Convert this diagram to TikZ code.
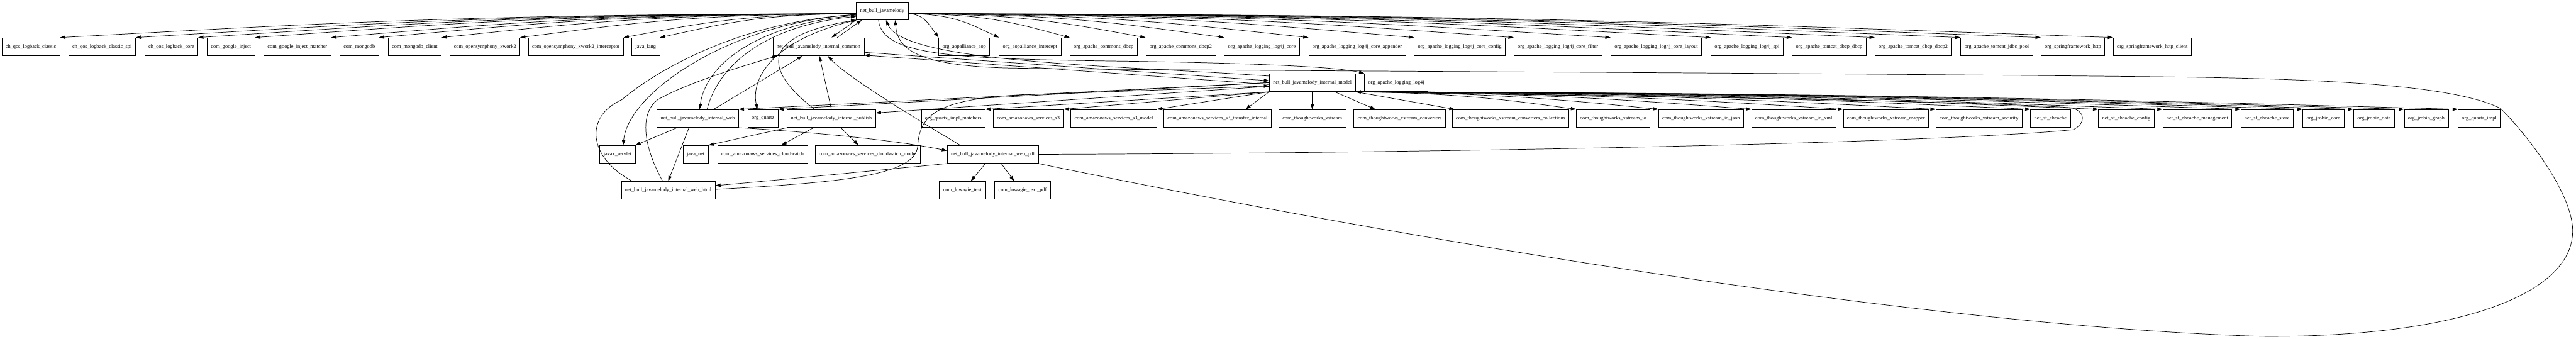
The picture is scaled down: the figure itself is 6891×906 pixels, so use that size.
\documentclass[tikz,border=0pt]{standalone}
\usepackage{fontspec}
\setmainfont{Liberation Serif}
\usetikzlibrary{arrows.meta}

\begin{document}
\begin{tikzpicture}[x=0.02cm,y=0.02cm,>={Triangle[length=0.28cm,width=0.18cm]},
    pkg/.style={draw, line width=0.7pt, minimum height=0.96cm, inner xsep=0.2cm, inner ysep=0pt,
        font=\fontsize{7.97}{9}\selectfont},
    dep/.style={->, line width=0.7pt}]

    % --- White canvas ---
    \fill[white] (0,0) rectangle (6891,-906);
    \useasboundingbox (0,0) rectangle (6891,-906);

    % --- Root package ---
    \node[pkg] (jm) at (2360,-29) {net\_bull\_javamelody};

    % --- Rank 1 ---
    \node[pkg] (qosclassic) at (82.5,-125) {ch\_qos\_logback\_classic};
    \node[pkg] (qosspi) at (273,-125) {ch\_qos\_logback\_classic\_spi};
    \node[pkg] (qoscore) at (458.5,-125) {ch\_qos\_logback\_core};
    \node[pkg] (inject) at (618,-125) {com\_google\_inject};
    \node[pkg] (injectmatcher) at (795.5,-125) {com\_google\_inject\_matcher};
    \node[pkg] (mongo) at (961,-125) {com\_mongodb};
    \node[pkg] (mongoclient) at (1109.5,-125) {com\_mongodb\_client};
    \node[pkg] (xwork) at (1297.5,-125) {com\_opensymphony\_xwork2};
    \node[pkg] (xworkint) at (1540.5,-125) {com\_opensymphony\_xwork2\_interceptor};
    \node[pkg] (javalang) at (1727.5,-125) {java\_lang};
    \node[pkg] (common) at (2189.5,-125) {net\_bull\_javamelody\_internal\_common};
    \node[pkg] (aop) at (2579.5,-125) {org\_aopalliance\_aop};
    \node[pkg] (aopint) at (2755.5,-125) {org\_aopalliance\_intercept};
    \node[pkg] (dbcp) at (2952,-125) {org\_apache\_commons\_dbcp};
    \node[pkg] (dbcptwo) at (3158.5,-125) {org\_apache\_commons\_dbcp2};
    \node[pkg] (lcore) at (3375.5,-125) {org\_apache\_logging\_log4j\_core};
    \node[pkg] (lappender) at (3630.5,-125) {org\_apache\_logging\_log4j\_core\_appender};
    \node[pkg] (lconfig) at (3905,-125) {org\_apache\_logging\_log4j\_core\_config};
    \node[pkg] (lfilter) at (4167.5,-125) {org\_apache\_logging\_log4j\_core\_filter};
    \node[pkg] (llayout) at (4430.5,-125) {org\_apache\_logging\_log4j\_core\_layout};
    \node[pkg] (lspi) at (4673.5,-125) {org\_apache\_logging\_log4j\_spi};
    \node[pkg] (tdbcp) at (4893,-125) {org\_apache\_tomcat\_dbcp\_dbcp};
    \node[pkg] (tdbcptwo) at (5118,-125) {org\_apache\_tomcat\_dbcp\_dbcp2};
    \node[pkg] (jdbcpool) at (5341.5,-125) {org\_apache\_tomcat\_jdbc\_pool};
    \node[pkg] (shttp) at (5545,-125) {org\_springframework\_http};
    \node[pkg] (shttpclient) at (5757.5,-125) {org\_springframework\_http\_client};

    % --- Rank 2 ---
    \node[pkg] (model) at (3510.5,-221) {net\_bull\_javamelody\_internal\_model};
    \node[pkg] (log4j) at (3735,-221) {org\_apache\_logging\_log4j};

    % --- Rank 3 ---
    \node[pkg] (web) at (1866.5,-317) {net\_bull\_javamelody\_internal\_web};
    \node[pkg] (quartz) at (2041,-317) {org\_quartz};
    \node[pkg] (publish) at (2224,-317) {net\_bull\_javamelody\_internal\_publish};
    \node[pkg] (matchers) at (2550,-317) {org\_quartz\_impl\_matchers};
    \node[pkg] (sthree) at (2751,-317) {com\_amazonaws\_services\_s3};
    \node[pkg] (sthreemodel) at (2979.5,-317) {com\_amazonaws\_services\_s3\_model};
    \node[pkg] (sthreetransfer) at (3257,-317) {com\_amazonaws\_services\_s3\_transfer\_internal};
    \node[pkg] (xs) at (3510.5,-317) {com\_thoughtworks\_xstream};
    \node[pkg] (xsconv) at (3744,-317) {com\_thoughtworks\_xstream\_converters};
    \node[pkg] (xscoll) at (4041,-317) {com\_thoughtworks\_xstream\_converters\_collections};
    \node[pkg] (xsio) at (4315.5,-317) {com\_thoughtworks\_xstream\_io};
    \node[pkg] (xsjson) at (4550.5,-317) {com\_thoughtworks\_xstream\_io\_json};
    \node[pkg] (xsxml) at (4798.5,-317) {com\_thoughtworks\_xstream\_io\_xml};
    \node[pkg] (xsmapper) at (5045,-317) {com\_thoughtworks\_xstream\_mapper};
    \node[pkg] (xssec) at (5294,-317) {com\_thoughtworks\_xstream\_security};
    \node[pkg] (ehcache) at (5485,-317) {net\_sf\_ehcache};
    \node[pkg] (ehconfig) at (5688,-317) {net\_sf\_ehcache\_config};
    \node[pkg] (ehmgmt) at (5878,-317) {net\_sf\_ehcache\_management};
    \node[pkg] (ehstore) at (6064.5,-317) {net\_sf\_ehcache\_store};
    \node[pkg] (jrcore) at (6215,-317) {org\_jrobin\_core};
    \node[pkg] (jrdata) at (6350.5,-317) {org\_jrobin\_data};
    \node[pkg] (jrgraph) at (6490.5,-317) {org\_jrobin\_graph};
    \node[pkg] (quartzimpl) at (6632,-317) {org\_quartz\_impl};

    % --- Rank 4 ---
    \node[pkg] (servlet) at (1652,-413) {javax\_servlet};
    \node[pkg] (javanet) at (1861,-413) {java\_net};
    \node[pkg] (cw) at (2040,-413) {com\_amazonaws\_services\_cloudwatch};
    \node[pkg] (cwmodel) at (2321.5,-413) {com\_amazonaws\_services\_cloudwatch\_model};
    \node[pkg] (pdf) at (2656,-413) {net\_bull\_javamelody\_internal\_web\_pdf};

    % --- Rank 5 ---
    \node[pkg] (html) at (1787.5,-509) {net\_bull\_javamelody\_internal\_web\_html};
    \node[pkg] (lowagie) at (2574.5,-509) {com\_lowagie\_text};
    \node[pkg] (lowagiepdf) at (2735.5,-509) {com\_lowagie\_text\_pdf};

    % --- Root fan, left and right ---
    \foreach \t/\a/\b in {qosclassic/1065/639, qosspi/964/578, qoscore/880/528, inject/804/482,
        injectmatcher/702/422, mongo/638/383, mongoclient/554/333, xwork/450/270,
        xworkint/312/187, javalang/262/158}
        \draw[dep] ([yshift=-0.16cm]jm.west) .. controls +(-\a,0) and +(\b,34) .. (\t.north east);
    \foreach \t/\a/\b in {aop/41/25, aopint/122/73, dbcp/217/130, dbcptwo/318/191, lcore/423/254,
        lappender/536/322, lconfig/678/406, lfilter/810/486, llayout/940/564, lspi/1074/644,
        tdbcp/1182/710, tdbcptwo/1294/776, jdbcpool/1408/845, shttp/1516/910, shttpclient/1612/968}
        \draw[dep] ([yshift=-0.16cm]jm.east) .. controls +(\a,0) and +(-\b,34) .. (\t.north west);

    % --- Root and common ---
    \draw[dep] (jm.south west) -- ([xshift=0.7cm]common.north);
    \draw[dep] ([xshift=1cm]common.north) -- ([xshift=0.3cm]jm.south west);
    \draw[dep] ([xshift=-0.2cm]jm.south) .. controls (2360,-150) and (2550,-158) .. (3033,-164)
        .. controls (3400,-170) and (3580,-180) .. (log4j.north west);
    \draw[dep] ([yshift=0.35cm]model.west) .. controls (3000,-175) and (2420,-170) .. ([xshift=0.2cm]jm.south);

    % --- Root and web side ---
    \draw[dep] ([yshift=-0.2cm]jm.west) .. controls (1950,-60) and (1680,-250) .. ([xshift=0.3cm]servlet.north);
    \draw[dep] ([xshift=0.6cm]html.north west) .. controls (1570,-420) and (1565,-310) .. (1663,-267)
        .. controls (1760,-185) and (1980,-60) .. ([yshift=-0.2cm]jm.west);
    \draw[dep] ([yshift=-0.25cm]jm.west) .. controls (2050,-60) and (1890,-160) .. ([xshift=0.1cm]web.north);
    \draw[dep] ([xshift=0.5cm]web.north) .. controls (1920,-180) and (2040,-70) .. ([yshift=-0.3cm]jm.west);
    \draw[dep] (jm.south west) .. controls (2050,-110) and (2010,-220) .. ([xshift=-0.3cm]quartz.north);
    \draw[dep] ([xshift=-0.9cm]publish.north) .. controls (2060,-200) and (2010,-100) .. (jm.south west);

    % --- Into common ---
    \draw[dep] (publish.north) -- ([xshift=0.05cm]common.south);
    \draw[dep] ([xshift=0.85cm]web.north) -- ([xshift=-0.85cm]common.south);
    \draw[dep] ([xshift=-0.3cm]html.north) .. controls (1715,-380) and (1715,-300) .. (1759,-267)
        .. controls (1830,-225) and (1990,-175) .. ([xshift=-2.2cm]common.south);
    \draw[dep] ([xshift=0.7cm]pdf.north west) .. controls (2420,-300) and (2260,-200) .. ([xshift=0.5cm]common.south);
    \draw[dep] ([yshift=-0.3cm]common.east) -- ([yshift=0.1cm]model.west);
    \draw[dep] ([yshift=-0.1cm]model.west) -- ([yshift=-0.45cm]common.east);

    % --- Web, publish, pdf ---
    \draw[dep] ([xshift=-0.47cm]web.south) -- (html.north);
    \draw[dep] ([xshift=-1.1cm]web.south) -- (servlet.north east);
    \draw[dep] (web.south east) .. controls (2150,-352) and (2380,-372) .. ([yshift=0.2cm]pdf.west);
    \draw[dep] (publish.south west) -- (javanet.north east);
    \draw[dep] ([xshift=-0.95cm]publish.south) -- ([xshift=1cm]cw.north);
    \draw[dep] ([xshift=0.5cm]publish.south) -- ([xshift=-0.5cm]cwmodel.north);
    \draw[dep] (pdf.south west) .. controls (2350,-455) and (2100,-480) .. ([yshift=0.25cm]html.east);
    \draw[dep] ([xshift=-0.4cm]pdf.south) -- ([xshift=0.45cm]lowagie.north);
    \draw[dep] ([xshift=0.45cm]pdf.south) -- ([xshift=-0.45cm]lowagiepdf.north);

    % --- Into model, and the long way round ---
    \draw[dep] ([yshift=0.05cm]html.east) .. controls (2250,-488) and (2450,-470) .. (2455,-390)
        .. controls (2460,-300) and (2520,-265) .. (2740,-253)
        .. controls (3000,-245) and (3250,-235) .. ([yshift=-0.18cm]model.west);
    \draw[dep] (pdf.east) .. controls (3800,-410) and (5150,-385) .. (5546,-347)
        .. controls (5580,-330) and (5580,-298) .. (5540,-288)
        .. controls (5200,-265) and (3900,-252) .. (model.south east);
    \draw[dep] (pdf.south east) .. controls (4000,-690) and (5300,-880) .. (6063,-900)
        .. controls (6600,-900) and (6880,-780) .. (6882,-620)
        .. controls (6884,-520) and (6760,-360) .. (6689,-290)
        .. controls (6560,-225) and (6200,-210) .. (5750,-205)
        .. controls (4500,-192) and (3200,-190) .. (2700,-182)
        .. controls (2450,-176) and (2400,-130) .. ([xshift=0.7cm]jm.south);

    % --- Model fan ---
    \draw[dep] (model.west) -- (web.north east);
    \draw[dep] (model.west) -- (quartz.north east);
    \draw[dep] ([yshift=-0.2cm]model.west) -- ([yshift=0.3cm]publish.east);
    \draw[dep] (model.south west) -- (matchers.north east);
    \draw[dep] (model.south west) -- (sthree.north east);
    \draw[dep] (model.south west) -- (sthreemodel.north east);
    \draw[dep] (model.south west) -- ([xshift=1.5cm]sthreetransfer.north);
    \draw[dep] (model.south) -- (xs.north);
    \draw[dep] ([xshift=1.2cm]model.south) -- ([xshift=-1.3cm]xsconv.north);
    \draw[dep] (model.south east) -- ([xshift=-3cm]xscoll.north);
    \foreach \t/\a/\b in {xsio/267/178, xsjson/366/244, xsxml/478/319, xsmapper/589/392,
        xssec/700/467, ehcache/813/542, ehconfig/895/597, ehmgmt/972/648, ehstore/1067/711,
        jrcore/1140/760, jrdata/1202/801, jrgraph/1263/842, quartzimpl/1328/885}
        \draw[dep] (model.south east) .. controls +(\a,-3) and +(-\b,25) .. (\t.north west);

\end{tikzpicture}
\end{document}
